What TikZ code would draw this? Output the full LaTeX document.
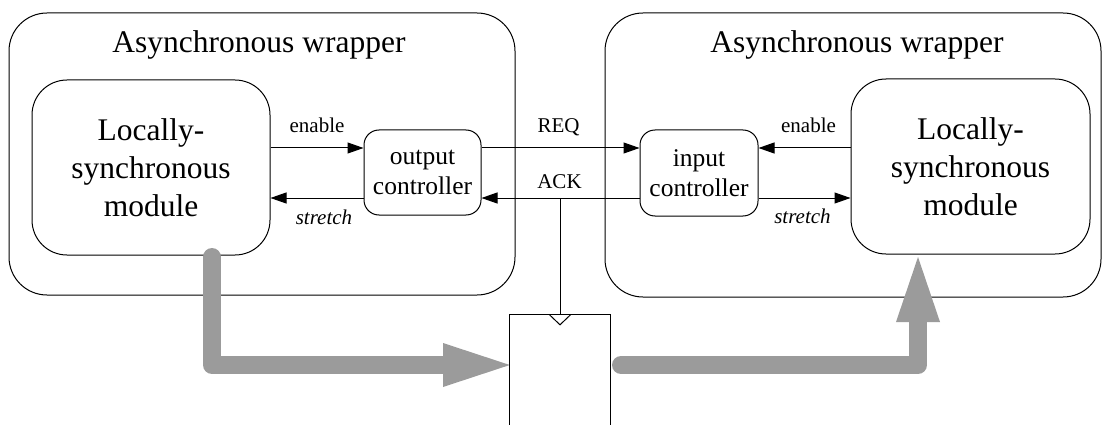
\documentclass[tikz,border=0pt]{standalone}
\usepackage{fontspec}
\setmainfont{Liberation Serif}
\usetikzlibrary{arrows.meta,calc}
\definecolor{flowgray}{RGB}{155,155,155}
\begin{document}
\begin{tikzpicture}[x=1pt,y=-1pt,
  box/.style={draw,line width=1pt,inner sep=0pt},
  wrapper/.style={box,rounded corners=38pt},
  module/.style={box,rounded corners=35pt,align=center,font=\fontsize{31.5}{38}\selectfont},
  ctrl/.style={box,rounded corners=15pt,align=center,font=\fontsize{25.5}{30}\selectfont},
  title/.style={font=\fontsize{31.5}{38}\selectfont,anchor=base},
  sig/.style={line width=1pt,-{Triangle[length=16pt,width=11pt]}},
  lbl/.style={font=\fontsize{21}{25}\selectfont,anchor=base},
  flow/.style={draw=flowgray,line width=18pt,line cap=round,line join=round},
  thin/.style={line width=1pt}
]
\useasboundingbox (0,0) rectangle (1108,425);

% wrappers
\node[wrapper,minimum width=506pt,minimum height=282pt] (lw) at (262,154) {};
\node[wrapper,minimum width=496pt,minimum height=284pt] (rw) at (853,155) {};
\node[title] (lwt) at (259,53) {Asynchronous wrapper};
\node[title] (rwt) at (857,53) {Asynchronous wrapper};

% modules
\node[module,minimum width=238pt,minimum height=175pt] (lsm) at (151,167.5) {Locally-\\synchronous\\module};
\node[module,minimum width=239pt,minimum height=175pt] (rsm) at (970.5,166.5) {Locally-\\synchronous\\module};

% controllers
\node[ctrl,minimum width=117pt,minimum height=85pt] (oc) at (422.5,172.5) {output\\controller};
\node[ctrl,minimum width=118pt,minimum height=86pt] (ic) at (699,173) {input\\controller};

\coordinate (ye) at (0,148);
\coordinate (ys) at (0,198);
\coordinate (yf) at (0,365);

% signals
\draw[sig] (lsm.east |- ye) -- node[lbl,yshift=16pt] {enable} (oc.west |- ye);
\draw[sig] (oc.west |- ys) -- node[lbl,yshift=-26pt,xshift=7pt] {\itshape stretch} (lsm.east |- ys);
\draw[sig] (oc.east |- ye) -- node[lbl,yshift=16pt,xshift=-2pt] {REQ} (ic.west |- ye);
\draw[sig] (ic.west |- ys) -- node[lbl,yshift=10pt,xshift=-1pt] {ACK} (oc.east |- ys);
\draw[sig] (rsm.west |- ye) -- node[lbl,yshift=16pt,xshift=4pt] {enable} (ic.east |- ye);
\draw[sig] (ic.east |- ys) -- node[lbl,yshift=-25pt,xshift=-2pt] {\itshape stretch} (rsm.west |- ys);

% register
\node[inner sep=0pt,minimum width=100pt,minimum height=115pt] (reg) at (560,372.5) {};

% gray data flow arrows
\coordinate (a1) at (212,257);
\coordinate (a2) at (212,365);
\coordinate (a3) at (446,365);
\draw[flow] (a1) -- (a2) -- (a3);
\fill[flowgray] (443,343) -- (443,387) -- (reg.west |- yf) -- cycle;

\coordinate (b1) at (621,365);
\coordinate (b2) at (918,365);
\coordinate (b3) at (918,318);
\draw[flow] (b1) -- (b2) -- (b3);
\fill[flowgray] (896,322) -- (940,322) -- (918,257) -- cycle;

% register outline and clock
\draw[thin] (reg.south west) -- (reg.north west) -- (reg.north east) -- (reg.south east);
\draw[thin] ($(reg.north)+(-10.5,0)$) -- ($(reg.north)+(0,10)$) -- ($(reg.north)+(10.5,0)$);
\draw[thin] (reg.north |- ys) -- (reg.north);
\end{tikzpicture}
\end{document}
